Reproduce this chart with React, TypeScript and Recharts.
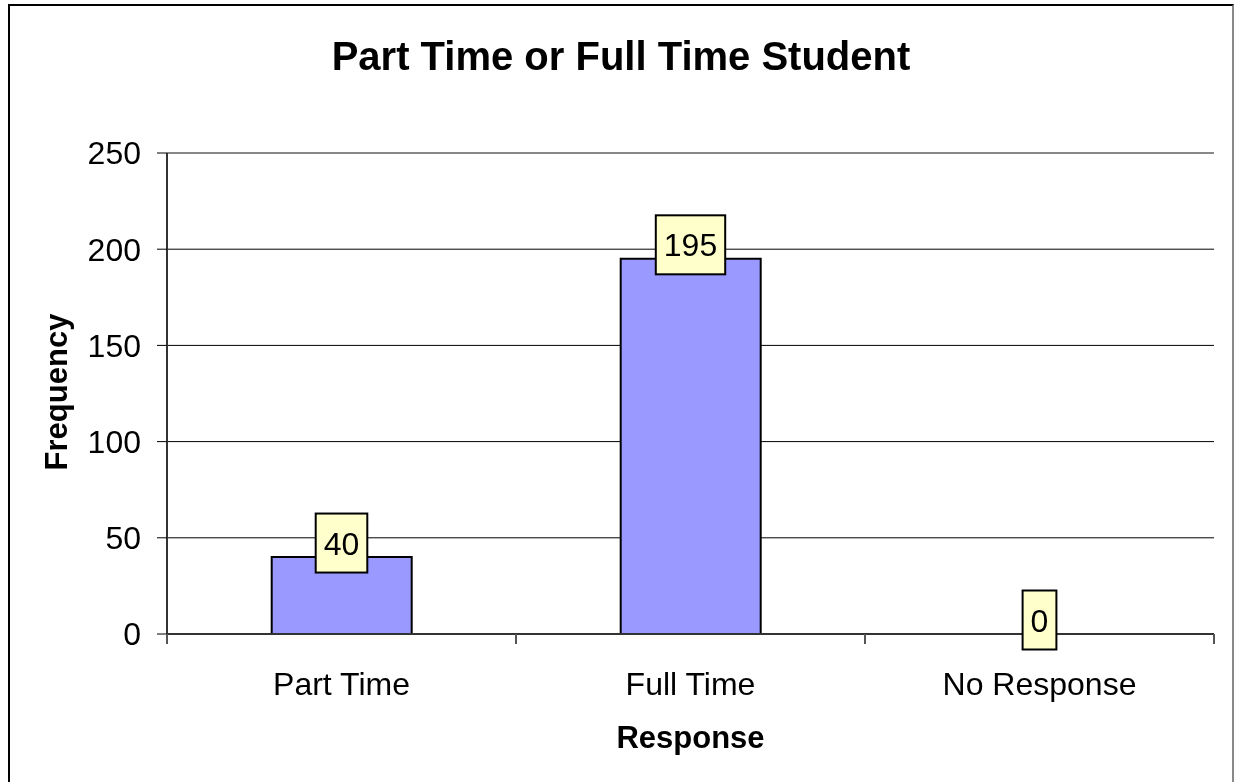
import { ComposedChart, Bar, Line, XAxis, YAxis, CartesianGrid, ReferenceLine } from 'recharts';

const CATEGORIES = ['Part Time', 'Full Time', 'No Response'];
const FREQUENCY = [40, 195, 0];
const Y_TICKS = [0, 50, 100, 150, 200, 250];

const FONT = '"Liberation Sans", Arial, sans-serif';
const CHART_W = 1226;
const CHART_H = 780;
const MARGIN = { top: 149, right: 20, left: 79, bottom: 80 };
const Y_AXIS_W = 80;
const PLOT_W = CHART_W - MARGIN.left - Y_AXIS_W - MARGIN.right;
const BAND = PLOT_W / CATEGORIES.length;

const data = CATEGORIES.map((name, i) => ({ name, value: FREQUENCY[i] }));

type TickProps = {
  x: number;
  y: number;
  index: number;
  payload: { value: string };
};

function XTick({ x, y, index, payload }: TickProps) {
  const half = BAND / 2;
  return (
    <g>
      <line x1={x - half} x2={x - half} y1={y} y2={y + 10} stroke="#555" strokeWidth={2} />
      {index === CATEGORIES.length - 1 && (
        <line x1={x + half} x2={x + half} y1={y} y2={y + 10} stroke="#555" strokeWidth={2} />
      )}
      <text x={x} y={y + 61} textAnchor="middle" fontSize={32} fill="#000" fontFamily={FONT}>
        {payload.value}
      </text>
    </g>
  );
}

// value boxes drawn as the dots of an invisible line so the 0 label shows too
// eslint-disable-next-line @typescript-eslint/no-explicit-any
function ValueBox(props: any) {
  const { cx, cy, value, index } = props;
  const label = String(Array.isArray(value) ? value[1] : value);
  const w = label.length * 17.8 + 16;
  const h = 59;
  const y = Number(cy) - 14;
  return (
    <g key={`box-${index}`}>
      <rect x={cx - w / 2} y={y - h / 2} width={w} height={h} fill="#FFFFCC" stroke="#000" strokeWidth={2} />
      <text x={cx} y={y + 11.5} textAnchor="middle" fontSize={32} fill="#000" fontFamily={FONT}>
        {label}
      </text>
    </g>
  );
}

export default function App() {
  return (
    <div style={{ position: 'fixed', left: 8, top: 4, width: CHART_W, height: CHART_H, fontFamily: FONT }}>
      <div
        style={{
          position: 'absolute',
          inset: 0,
          boxSizing: 'border-box',
          borderTop: '2px solid #000',
          borderLeft: '2px solid #000',
          borderRight: '2px solid #888',
          borderBottom: '2px solid #000',
        }}
      />
      <div
        style={{
          position: 'absolute',
          left: 0,
          width: CHART_W,
          top: 32,
          textAlign: 'center',
          fontSize: 40,
          lineHeight: '40px',
          fontWeight: 'bold',
        }}
      >
        Part Time or Full Time Student
      </div>
      <div
        style={{
          position: 'absolute',
          left: 48,
          top: 388,
          width: 300,
          textAlign: 'center',
          fontSize: 31,
          lineHeight: '31px',
          fontWeight: 'bold',
          transform: 'translate(-50%, -50%) rotate(-90deg)',
        }}
      >
        Frequency
      </div>
      <div
        style={{
          position: 'absolute',
          left: MARGIN.left + Y_AXIS_W,
          width: PLOT_W,
          top: 718,
          textAlign: 'center',
          fontSize: 31,
          lineHeight: '31px',
          fontWeight: 'bold',
        }}
      >
        Response
      </div>
      <ComposedChart
        width={CHART_W}
        height={CHART_H}
        data={data}
        margin={MARGIN}
        barCategoryGap="30%"
        style={{ position: 'absolute', left: 0, top: 0 }}
      >
        <CartesianGrid vertical={false} stroke="#000" strokeWidth={1} />
        <XAxis
          dataKey="name"
          axisLine={{ stroke: '#333', strokeWidth: 2 }}
          tickLine={false}
          tickSize={0}
          tickMargin={0}
          height={70}
          interval={0}
          tick={(p: TickProps) => <XTick {...p} />}
        />
        <YAxis
          width={Y_AXIS_W}
          domain={[0, 250]}
          ticks={Y_TICKS}
          interval={0}
          axisLine={{ stroke: '#333', strokeWidth: 2 }}
          tickLine={{ stroke: '#000' }}
          tickSize={10}
          tickMargin={16}
          tick={{ fontSize: 32, fill: '#000', fontFamily: FONT }}
        />
        <YAxis
          yAxisId="right"
          orientation="right"
          width={0}
          domain={[0, 250]}
          tick={false}
          tickLine={false}
          axisLine={{ stroke: '#888', strokeWidth: 2 }}
        />
        <ReferenceLine y={250} stroke="#888" strokeWidth={2} />
        <Bar dataKey="value" fill="#9999FF" stroke="#000" strokeWidth={2} isAnimationActive={false} />
        <Line
          dataKey="value"
          stroke="none"
          dot={ValueBox}
          activeDot={false}
          isAnimationActive={false}
        />
      </ComposedChart>
    </div>
  );
}
